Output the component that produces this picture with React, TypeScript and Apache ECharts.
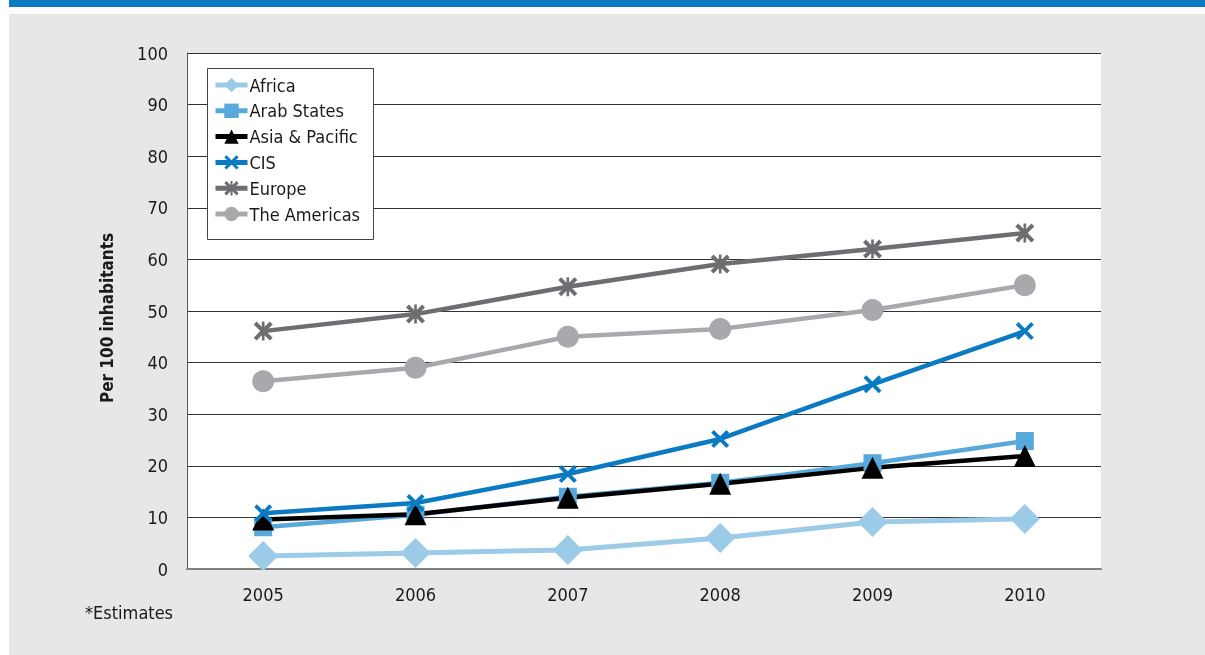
import React, { useEffect, useRef } from "react";
import * as echarts from "echarts";

const years = ["2005", "2006", "2007", "2008", "2009", "2010"];
const africa = [2.5, 3.1, 3.7, 6.0, 9.1, 9.7];
const arabStates = [8.1, 10.5, 14.0, 16.7, 20.5, 24.8];
const asiaPacific = [9.6, 10.6, 13.8, 16.5, 19.6, 21.9];
const cis = [10.8, 12.8, 18.4, 25.2, 35.8, 46.1];
const europe = [46.1, 49.4, 54.7, 59.1, 62.0, 65.1];
const americas = [36.4, 39.0, 45.0, 46.5, 50.2, 55.0];

const FONT = "'Liberation Sans Narrow', 'DejaVu Sans Condensed', Roboto, sans-serif";

const CROSS =
  "path://M0,3 L3,0 L10,7 L17,0 L20,3 L13,10 L20,17 L17,20 L10,13 L3,20 L0,17 L7,10 Z";
const STAR =
  "path://M0,3 L3,0 L10,7 L17,0 L20,3 L13,10 L20,17 L17,20 L10,13 L3,20 L0,17 L7,10 Z M8.6,0 L11.4,0 L11.4,20 L8.6,20 Z";

export default function App() {
  const ref = useRef<HTMLDivElement>(null);
  useEffect(() => {
    const chart = echarts.init(ref.current!, null, { renderer: "svg" });
    const mk = (name: string, data: number[], color: string, symbol: string, size: number, width = 4.5) => ({
      name,
      type: "line",
      data,
      symbol,
      symbolSize: size,
      showSymbol: true,
      lineStyle: { color, width },
      itemStyle: { color, borderWidth: 0 },
      emphasis: { disabled: true },
    });
    chart.setOption({
      animation: false,
      textStyle: { fontFamily: FONT },
      graphic: [
        { type: "rect", z: -10, shape: { x: 9, y: 0, width: 1196, height: 7 }, style: { fill: "#0a7bc2" } },
        { type: "rect", z: -10, shape: { x: 9, y: 14, width: 1196, height: 641 }, style: { fill: "#e6e7e8" } },
        {
          type: "rect",
          z: 3,
          shape: { x: 207.5, y: 68.5, width: 166, height: 171 },
          style: { fill: "#ffffff", stroke: "#444", lineWidth: 1 },
        },
        {
          type: "text",
          left: 85,
          top: 603,
          style: { text: "*Estimates", font: `18px ${FONT}`, fill: "#1a1a1a" },
        },
        {
          type: "text",
          x: 107,
          y: 318,
          rotation: Math.PI / 2,
          style: {
            text: "Per 100 inhabitants",
            font: `bold 17px ${FONT}`,
            fill: "#1a1a1a",
            align: "center",
            verticalAlign: "middle",
          },
        },
      ],
      grid: { left: 187, right: 104, top: 53, bottom: 86, show: true, backgroundColor: "#ffffff", borderWidth: 0 },
      legend: {
        orient: "vertical",
        left: 205,
        top: 68,
        padding: [8, 8, 8, 8],
        itemWidth: 32,
        itemHeight: 18,
        itemGap: 7.8,
        z: 5,
        lineStyle: { width: 5 },
        textStyle: { fontFamily: FONT, fontSize: 18, color: "#1a1a1a", padding: [0, 0, 0, -3] },
        data: ["Africa", "Arab States", "Asia & Pacific", "CIS", "Europe", "The Americas"],
      },
      xAxis: {
        type: "category",
        data: years,
        boundaryGap: true,
        axisLine: { show: true, lineStyle: { color: "#7f7f7f", width: 2 } },
        axisTick: { show: false },
        axisLabel: { fontFamily: FONT, fontSize: 18, color: "#1a1a1a", margin: 16 },
      },
      yAxis: {
        type: "value",
        min: 0,
        max: 100,
        interval: 10,
        axisLine: { show: true, lineStyle: { color: "#555", width: 1 } },
        axisTick: { show: false },
        axisLabel: { fontFamily: FONT, fontSize: 18, color: "#1a1a1a", margin: 19 },
        splitLine: { show: true, lineStyle: { color: "#333", width: 1 } },
      },
      series: [
        mk("Africa", africa, "#9bcbe7", "diamond", 30, 5),
        mk("Arab States", arabStates, "#58a9db", "rect", 18),
        mk("Asia & Pacific", asiaPacific, "#000000", "triangle", 22),
        mk("CIS", cis, "#0a7bc2", CROSS, 18),
        mk("Europe", europe, "#6d6e71", STAR, 19),
        mk("The Americas", americas, "#a7a9ac", "circle", 22),
      ],
    });
    return () => chart.dispose();
  }, []);
  return <div ref={ref} style={{ position: "fixed", left: 0, top: 0, width: 1205, height: 655 }} />;
}
